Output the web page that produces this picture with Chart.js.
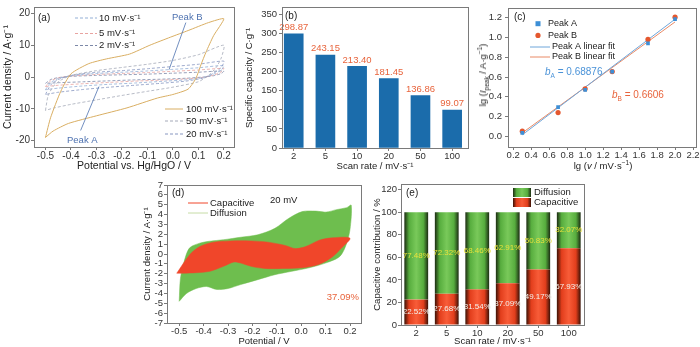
<!DOCTYPE html>
<html lang="en">
<head>
<meta charset="UTF-8">
<title>CV analysis</title>
<script src="https://cdn.jsdelivr.net/npm/chart.js"></script>
<style>
    body { margin: 0; background: #fff; }
    #fig { position: relative; width: 700px; height: 347px; overflow: hidden;
           font-family: 'Liberation Sans', Arial, sans-serif; color: #222; }
    .panel { position: absolute; }
    .lab { position: absolute; white-space: nowrap; font-size: 9.5px; line-height: 12px; }
    .lab sub, .lab sup { font-size: 6.5px; line-height: 0; }
</style>
</head>
<body>
<div id="fig">
    <div class="panel" style="left:0;top:0;width:238px;height:175px"><canvas id="chartA"></canvas></div>
    <div class="panel" style="left:240px;top:0;width:230px;height:175px"><canvas id="chartB"></canvas></div>
    <div class="panel" style="left:470px;top:0;width:230px;height:175px"><canvas id="chartC"></canvas></div>
    <div class="panel" style="left:132px;top:176px;width:232px;height:171px"><canvas id="chartD"></canvas></div>
    <div class="panel" style="left:366px;top:176px;width:221px;height:171px"><canvas id="chartE"></canvas></div>

    <div class="lab" style="left:483px;top:75px;transform:translate(-50%,-50%) rotate(-90deg)">lg (<i>I</i><sub>peak</sub> / A·g<sup>−1</sup>)</div>
    <div class="lab" style="left:603px;top:166px;transform:translate(-50%,-50%)">lg (<i>v</i> / mV·s<sup>−1</sup>)</div>
    <div class="lab" style="left:545px;top:72px;transform:translateY(-50%);color:#4b93d8;font-size:10px"><i>b</i><sub>A</sub> = 0.68876</div>
    <div class="lab" style="left:612px;top:95px;transform:translateY(-50%);color:#e8643c;font-size:10px"><i>b</i><sub>B</sub> = 0.6606</div>
</div>

<script>
    // ---- (a) CV curves at different scan rates ----
    const cv100X = [-0.50, -0.48, -0.44, -0.40, -0.33, -0.26, -0.17, -0.09, -0.01, 0.06, 0.14, 0.20,
                    0.16, 0.13, 0.11, 0.09, 0.06, 0.00, -0.06, -0.18, -0.30, -0.41, -0.47, -0.50];
    const cv100Y = [-19.0, -12.8, -4.5, 1.0, 4.2, 5.7, 7.2, 10.0, 12.5, 14.6, 17.1, 18.3,
                    13.0, 7.8, 3.8, -0.5, -3.8, -5.5, -6.6, -9.7, -12.2, -14.6, -17.0, -19.0];
    const cv50X = [-0.50, -0.49, -0.47, -0.44, -0.40, -0.30, -0.20, -0.10, 0.00, 0.10, 0.20,
                   0.19, 0.17, 0.14, 0.10, 0.00, -0.10, -0.20, -0.30, -0.40, -0.47, -0.50];
    const cv50Y = [-10.5, -6.0, -3.0, -1.0, 0.5, 2.0, 3.0, 4.0, 5.2, 7.0, 10.0,
                   6.0, 3.0, 0.5, -1.5, -3.2, -4.5, -5.8, -7.2, -8.6, -9.8, -10.5];
    const slowX = [-0.50, -0.48, -0.45, -0.40, -0.30, -0.20, -0.10, 0.00, 0.10, 0.20,
                   0.19, 0.16, 0.12, 0.05, -0.05, -0.15, -0.25, -0.35, -0.45, -0.50];
    const cv20Y = [-5.5, -2.5, -0.8, 0.5, 1.5, 2.0, 2.6, 3.3, 4.0, 5.0, 3.0, 1.2, -0.3, -1.3, -2.0, -2.6, -3.2, -3.9, -4.8, -5.5];
    const cv10Y = [-4.0, -1.8, -0.5, 0.4, 1.1, 1.5, 1.9, 2.4, 2.9, 3.6, 2.2, 0.9, -0.2, -0.9, -1.4, -1.9, -2.3, -2.8, -3.5, -4.0];
    const cv5Y = [-3.0, -1.2, -0.3, 0.3, 0.8, 1.1, 1.4, 1.8, 2.2, 2.7, 1.6, 0.6, -0.1, -0.6, -1.0, -1.3, -1.7, -2.1, -2.6, -3.0];
    const cv2Y = [-2.0, -0.8, -0.2, 0.2, 0.5, 0.7, 0.9, 1.2, 1.5, 1.9, 1.1, 0.4, 0.0, -0.4, -0.7, -0.9, -1.2, -1.5, -1.8, -2.0];
    const peakAX = [-0.362, -0.290];
    const peakAY = [-16.8, -3.0];
    const peakBX = [0.051, -0.015];
    const peakBY = [17.1, 2.3];
    const potentialTicks = [-0.5, -0.4, -0.3, -0.2, -0.1, 0.0, 0.1, 0.2];
    const currentTicksA = [-20, -10, 0, 10, 20];

    // ---- (b) specific capacity ----
    const scanRates = ['2', '5', '10', '20', '50', '100'];
    const capacity = [298.87, 243.15, 213.40, 181.45, 136.86, 99.07];
    const capacityTicks = [0, 50, 100, 150, 200, 250, 300, 350];

    // ---- (c) lg(i) vs lg(v) ----
    const lgV = [0.301, 0.699, 1.0, 1.301, 1.699, 2.0];
    const lgIA = [0.035, 0.295, 0.47, 0.655, 0.94, 1.185];
    const lgIB = [0.052, 0.24, 0.48, 0.655, 0.98, 1.205];
    const fitX = [0.301, 2.0];
    const fitAY = [0.015, 1.185];
    const fitBY = [0.035, 1.157];
    const lgVTicks = [0.2, 0.4, 0.6, 0.8, 1.0, 1.2, 1.4, 1.6, 1.8, 2.0, 2.2];
    const lgITicks = [0.0, 0.2, 0.4, 0.6, 0.8, 1.0, 1.2];

    // ---- (d) capacitive vs diffusion CV at 20 mV/s ----
    const totalX = [-0.50, -0.495, -0.48, -0.458, -0.416, -0.374, -0.318, -0.248, -0.178, -0.108, -0.052, 0.004, 0.06, 0.102, 0.144, 0.186, 0.205,
                    0.20, 0.185, 0.158, 0.102, 0.032, -0.038, -0.108, -0.178, -0.248, -0.30, -0.346, -0.388, -0.43, -0.47, -0.50];
    const totalY = [-4.8, -2.5, -0.8, 0.6, 1.1, 1.3, 1.45, 1.7, 1.95, 2.6, 3.6, 4.3, 4.35, 4.25, 4.5, 4.7, 4.95,
                    2.5, 1.0, -0.25, -0.9, -1.4, -1.75, -2.1, -2.6, -3.1, -3.5, -3.6, -3.3, -3.5, -4.0, -4.8];
    const capX = [-0.51, -0.458, -0.416, -0.36, -0.29, -0.206, -0.136, -0.066, -0.024, 0.018, 0.074, 0.13, 0.20,
                  0.165, 0.13, 0.074, 0.004, -0.066, -0.15, -0.206, -0.248, -0.276, -0.318, -0.374, -0.43, -0.486, -0.51];
    const capY = [-1.95, -0.1, 0.75, 1.2, 1.33, 1.33, 1.2, 0.87, 0.55, 0.75, 1.4, 1.65, 1.6,
                  0.6, -0.25, -1.05, -1.4, -1.47, -1.47, -1.25, -0.92, -0.82, -1.25, -1.75, -1.9, -1.95, -1.95];
    const currentTicksD = [-7, -6, -5, -4, -3, -2, -1, 0, 1, 2, 3, 4, 5, 6, 7];

    // ---- (e) contribution ratio ----
    const capPct = [22.52, 27.68, 31.54, 37.09, 49.17, 67.93];
    const difPct = [77.48, 72.32, 68.46, 62.91, 50.83, 32.07];
    const pctTicks = [0, 20, 40, 60, 80, 100, 120];

    const FONT = "'Liberation Sans', Arial, sans-serif";
    const EDGE = '#7a7a7a';
    const redStops = ['#3a1206', '#e23e1c', '#f85c38'];
    const greenStops = ['#1c2c12', '#57ad3e', '#79c95a'];

    Chart.defaults.font.family = FONT;
    Chart.defaults.animation = false;
    Chart.defaults.maintainAspectRatio = false;
    Chart.defaults.plugins.legend.display = false;
    Chart.defaults.plugins.tooltip.enabled = false;

    const zip = (xs, ys) => xs.map((x, i) => ({x: x, y: ys[i]}));

    function axis(o) {
        const horiz = o.pos === 'x';
        const ticks = {padding: o.tickPad, color: '#333', font: {size: o.tickSize || 9.5}, autoSkip: false, maxRotation: 0};
        if (o.fmt) ticks.callback = o.fmt;
        const ax = {
            type: o.type || 'linear',
            offset: !!o.offset,
            stacked: !!o.stacked,
            afterFit: s => { if (horiz) s.height = o.fit; else s.width = o.fit; },
            ticks: ticks,
            grid: {display: true, drawOnChartArea: false, drawTicks: true, tickLength: 3, color: EDGE, offset: false},
            border: {display: true, color: EDGE, width: 1},
            title: {display: true, text: o.title || '', color: '#222', font: {size: o.titleSize || 9.5},
                    padding: horiz ? {top: 0, bottom: o.titlePad} : {top: o.titlePad, bottom: 0}}
        };
        if (!o.title) ax.title.display = false;
        if (o.min !== undefined) { ax.min = o.min; ax.max = o.max; }
        if (o.ticksAt) ax.afterBuildTicks = s => { s.ticks = o.ticksAt.map(v => ({value: v})); };
        return ax;
    }

    const align = v => Math.round(v - 0.5) + 0.5;
    const frame = {
        id: 'frame',
        afterDraw(chart) {
            const {ctx, chartArea: a} = chart;
            const l = align(a.left), t = align(a.top), r = align(a.right), b = align(a.bottom);
            ctx.save();
            ctx.strokeStyle = EDGE;
            ctx.lineWidth = 1;
            ctx.strokeRect(l, t, r - l, b - t);
            ctx.restore();
        }
    };

    function cylinderFill(ctx, x, w, stops) {
        const g = ctx.createLinearGradient(x - w / 2, 0, x + w / 2, 0);
        g.addColorStop(0, stops[0]);
        g.addColorStop(0.2, stops[1]);
        g.addColorStop(0.5, stops[2]);
        g.addColorStop(0.8, stops[1]);
        g.addColorStop(1, stops[0]);
        return g;
    }

    function barShade(c, stops) {
        if (c.type !== 'data' || !c.chart.chartArea) return stops[1];
        const sx = c.chart.scales.x;
        const w = (sx.getPixelForValue(1) - sx.getPixelForValue(0)) * 0.78;
        return cylinderFill(c.chart.ctx, sx.getPixelForValue(c.dataIndex), w, stops);
    }

    // texts and legend keys, positions relative to the plot area
    function notes(spec) {
        return {
            id: 'notes',
            afterDraw(chart) {
                const {ctx, chartArea: a} = chart;
                ctx.save();
                (spec.keys || []).forEach(k => {
                    const y = a.top + k.y;
                    ctx.strokeStyle = k.color;
                    ctx.fillStyle = k.color;
                    ctx.lineWidth = 1;
                    if (k.kind === 'line') {
                        ctx.setLineDash(k.dash || []);
                        ctx.beginPath();
                        ctx.moveTo(a.left + k.x1, y);
                        ctx.lineTo(a.left + k.x2, y);
                        ctx.stroke();
                        ctx.setLineDash([]);
                    } else if (k.kind === 'rect') {
                        ctx.fillRect(a.left + k.x1 - 2.5, y - 2.5, 5, 5);
                    } else if (k.kind === 'circle') {
                        ctx.beginPath();
                        ctx.arc(a.left + k.x1, y, 2.6, 0, Math.PI * 2);
                        ctx.fill();
                    } else if (k.kind === 'box') {
                        ctx.fillStyle = cylinderFill(ctx, a.left + (k.x1 + k.x2) / 2, k.x2 - k.x1, k.stops);
                        ctx.fillRect(a.left + k.x1, y - 4.5, k.x2 - k.x1, 9);
                    }
                });
                (spec.texts || []).forEach(t => {
                    ctx.font = (t.size || 9.5) + 'px ' + FONT;
                    ctx.fillStyle = t.color || '#222';
                    ctx.textAlign = t.align || 'left';
                    ctx.textBaseline = 'middle';
                    ctx.fillText(t.text, a.left + t.x, a.top + t.y);
                });
                ctx.restore();
            }
        };
    }

    const loop = (xs, ys, color, dash, width) => ({
        data: zip(xs, ys), borderColor: color, borderDash: dash, borderWidth: width,
        pointRadius: 0, tension: 0.2, fill: false
    });

    // (a)
    const c100 = '#d9ae62', c50 = '#a4a9b8', c20 = '#8796c0', c10 = '#93afd6', c5 = '#e8a3a0', c2 = '#7c88a8';
    const peakColor = '#4e72b0';
    new Chart(document.getElementById('chartA'), {
        type: 'line',
        data: {
            datasets: [
                {data: zip(peakAX, peakAY), borderColor: peakColor, borderWidth: 0.8, pointRadius: 0, tension: 0},
                {data: zip(peakBX, peakBY), borderColor: peakColor, borderWidth: 0.8, pointRadius: 0, tension: 0},
                loop(cv100X, cv100Y, c100, [], 1),
                loop(cv50X, cv50Y, c50, [3, 2], 0.8),
                loop(slowX, cv20Y, c20, [3, 2], 0.8),
                loop(slowX, cv10Y, c10, [3, 2], 0.8),
                loop(slowX, cv5Y, c5, [3, 2], 0.8),
                loop(slowX, cv2Y, c2, [3, 2], 0.8)
            ]
        },
        options: {
            layout: {padding: {top: 4, right: 4}},
            scales: {
                x: axis({pos: 'x', min: -0.545, max: 0.24, ticksAt: potentialTicks, fmt: v => v.toFixed(1),
                         fit: 28, tickPad: 0, tickSize: 10, title: 'Potential vs. Hg/HgO / V', titleSize: 10.5, titlePad: 3}),
                y: axis({pos: 'y', min: -22, max: 22, ticksAt: currentTicksA, fmt: v => String(v),
                         fit: 34, tickPad: 1, tickSize: 10, title: 'Current density / A·g⁻¹', titleSize: 10.5, titlePad: 2})
            }
        },
        plugins: [frame, notes({
            keys: [
                {kind: 'line', x1: 41, x2: 63, y: 11, color: c10, dash: [3, 2]},
                {kind: 'line', x1: 41, x2: 63, y: 26.5, color: c5, dash: [3, 2]},
                {kind: 'line', x1: 41, x2: 63, y: 38.5, color: c2, dash: [3, 2]},
                {kind: 'line', x1: 131, x2: 149, y: 102, color: c100},
                {kind: 'line', x1: 131, x2: 149, y: 114, color: c50, dash: [3, 2]},
                {kind: 'line', x1: 131, x2: 149, y: 127, color: c20, dash: [3, 2]}
            ],
            texts: [
                {text: '(a)', x: 4, y: 11, size: 10},
                {text: '10 mV·s⁻¹', x: 65, y: 11},
                {text: '5 mV·s⁻¹', x: 65, y: 26.5},
                {text: '2 mV·s⁻¹', x: 65, y: 38.5},
                {text: '100 mV·s⁻¹', x: 152, y: 102},
                {text: '50 mV·s⁻¹', x: 152, y: 114},
                {text: '20 mV·s⁻¹', x: 152, y: 127},
                {text: 'Peak B', x: 138, y: 10, color: peakColor},
                {text: 'Peak A', x: 33, y: 133, color: peakColor}
            ]
        })]
    });

    // (b)
    const barLabels = {
        id: 'barLabels',
        afterDatasetsDraw(chart) {
            const {ctx} = chart;
            ctx.save();
            ctx.font = '9.5px ' + FONT;
            ctx.fillStyle = '#e8643c';
            ctx.textAlign = 'center';
            ctx.textBaseline = 'middle';
            chart.getDatasetMeta(0).data.forEach((bar, i) => {
                ctx.fillText(capacity[i].toFixed(2), bar.x, bar.y - 6.5);
            });
            ctx.restore();
        }
    };
    new Chart(document.getElementById('chartB'), {
        type: 'bar',
        data: {
            datasets: [{
                data: capacity.map((v, i) => ({x: i, y: v})),
                backgroundColor: '#1b6cab',
                barThickness: 19
            }]
        },
        options: {
            layout: {padding: {top: 4, right: 2}},
            scales: {
                x: axis({pos: 'x', min: -0.37, max: 5.5, ticksAt: [0, 1, 2, 3, 4, 5], fmt: v => scanRates[v],
                         fit: 27, tickPad: 0, title: 'Scan rate / mV·s⁻¹', titlePad: 3}),
                y: axis({pos: 'y', min: 0, max: 367, ticksAt: capacityTicks, fmt: v => String(v),
                         fit: 42, tickPad: 2, title: 'Specific capacity / C·g⁻¹', titlePad: 4})
            }
        },
        plugins: [frame, barLabels, notes({texts: [{text: '(b)', x: 3, y: 9, size: 10}]})]
    });

    // (c)
    const blueA = '#3d8fd6', redB = '#e4572e';
    new Chart(document.getElementById('chartC'), {
        type: 'line',
        data: {
            datasets: [
                {data: zip(lgV, lgIA), showLine: false, pointStyle: 'rect', pointRadius: 2.6,
                 backgroundColor: blueA, borderColor: blueA, borderWidth: 0},
                {data: zip(lgV, lgIB), showLine: false, pointStyle: 'circle', pointRadius: 2.6,
                 backgroundColor: redB, borderColor: redB, borderWidth: 0},
                {data: zip(fitX, fitAY), borderColor: '#6fa6da', borderWidth: 1, pointRadius: 0},
                {data: zip(fitX, fitBY), borderColor: '#e98a66', borderWidth: 1, pointRadius: 0}
            ]
        },
        options: {
            layout: {padding: {top: 4, right: 2}},
            scales: {
                x: axis({pos: 'x', min: 0.142, max: 2.233, ticksAt: lgVTicks, fmt: v => v.toFixed(1), fit: 28, tickPad: 0}),
                y: axis({pos: 'y', min: -0.108, max: 1.291, ticksAt: lgITicks, fmt: v => v.toFixed(1), fit: 38, tickPad: 3})
            }
        },
        plugins: [frame, notes({
            keys: [
                {kind: 'rect', x1: 30, y: 15, color: blueA},
                {kind: 'circle', x1: 30, y: 26.7, color: redB},
                {kind: 'line', x1: 22, x2: 42, y: 38.3, color: '#6fa6da'},
                {kind: 'line', x1: 22, x2: 42, y: 48.3, color: '#e98a66'}
            ],
            texts: [
                {text: '(c)', x: 6, y: 9, size: 10},
                {text: 'Peak A', x: 40, y: 15, size: 9},
                {text: 'Peak B', x: 40, y: 26.7, size: 9},
                {text: 'Peak A linear fit', x: 44, y: 38.3, size: 9},
                {text: 'Peak B linear fit', x: 44, y: 48.3, size: 9}
            ]
        })]
    });

    // (d)
    const capRed = '#f0462a', difGreen = '#6ebe4e';
    new Chart(document.getElementById('chartD'), {
        type: 'line',
        data: {
            datasets: [
                {data: zip(capX, capY), borderColor: capRed, backgroundColor: capRed, borderWidth: 0.5,
                 pointRadius: 0, tension: 0.3, fill: 'shape'},
                {data: zip(totalX, totalY), borderColor: difGreen, backgroundColor: difGreen, borderWidth: 0.5,
                 pointRadius: 0, tension: 0.3, fill: 'shape'}
            ]
        },
        options: {
            layout: {padding: {top: 9, right: 3}},
            scales: {
                x: axis({pos: 'x', min: -0.55, max: 0.245, ticksAt: potentialTicks, fmt: v => v.toFixed(1),
                         fit: 24, tickPad: 0, title: 'Potential / V', titlePad: 0}),
                y: axis({pos: 'y', min: -7, max: 7, ticksAt: currentTicksD, fmt: v => String(v),
                         fit: 35, tickPad: 1, title: 'Current density / A·g⁻¹', titlePad: 10})
            }
        },
        plugins: [frame, notes({
            keys: [
                {kind: 'line', x1: 21, x2: 41, y: 18, color: capRed},
                {kind: 'line', x1: 21, x2: 41, y: 28, color: '#c6dca6'}
            ],
            texts: [
                {text: '(d)', x: 5, y: 8, size: 10},
                {text: 'Capacitive', x: 43, y: 18},
                {text: 'Diffusion', x: 43, y: 28},
                {text: '20 mV', x: 103, y: 15},
                {text: '37.09%', x: 192, y: 112, align: 'right', color: '#e8643c'}
            ]
        })]
    });

    // (e)
    const pctLabels = {
        id: 'pctLabels',
        afterDatasetsDraw(chart) {
            const {ctx} = chart;
            ctx.save();
            ctx.font = '8px ' + FONT;
            ctx.textAlign = 'center';
            ctx.textBaseline = 'middle';
            [[capPct, '#f4f1ec'], [difPct, '#e6e23c']].forEach(([vals, color], d) => {
                ctx.fillStyle = color;
                chart.getDatasetMeta(d).data.forEach((bar, i) => {
                    ctx.fillText(vals[i].toFixed(2) + '%', bar.x, (bar.y + bar.base) / 2);
                });
            });
            ctx.restore();
        }
    };
    new Chart(document.getElementById('chartE'), {
        type: 'bar',
        data: {
            labels: scanRates,
            datasets: [
                {label: 'Capacitive', data: capPct, backgroundColor: c => barShade(c, redStops),
                 barPercentage: 0.78, categoryPercentage: 1},
                {label: 'Diffusion', data: difPct, backgroundColor: c => barShade(c, greenStops),
                 barPercentage: 0.78, categoryPercentage: 1}
            ]
        },
        options: {
            layout: {padding: {top: 8, right: 3}},
            scales: {
                x: axis({pos: 'x', type: 'category', offset: true, stacked: true, fit: 22, tickPad: 0,
                         title: 'Scan rate / mV·s⁻¹', titlePad: 0}),
                y: axis({pos: 'y', min: 0, max: 125, stacked: true, ticksAt: pctTicks, fmt: v => String(v),
                         fit: 35, tickPad: 1, title: 'Capacitive contribution / %', titlePad: 6})
            }
        },
        plugins: [frame, pctLabels, notes({
            keys: [
                {kind: 'box', x1: 112, x2: 130, y: 8.5, stops: greenStops},
                {kind: 'box', x1: 112, x2: 130, y: 18.5, stops: redStops}
            ],
            texts: [
                {text: '(e)', x: 5, y: 9, size: 10},
                {text: 'Diffusion', x: 133, y: 8.5},
                {text: 'Capacitive', x: 133, y: 18.5}
            ]
        })]
    });
</script>
</body>
</html>
